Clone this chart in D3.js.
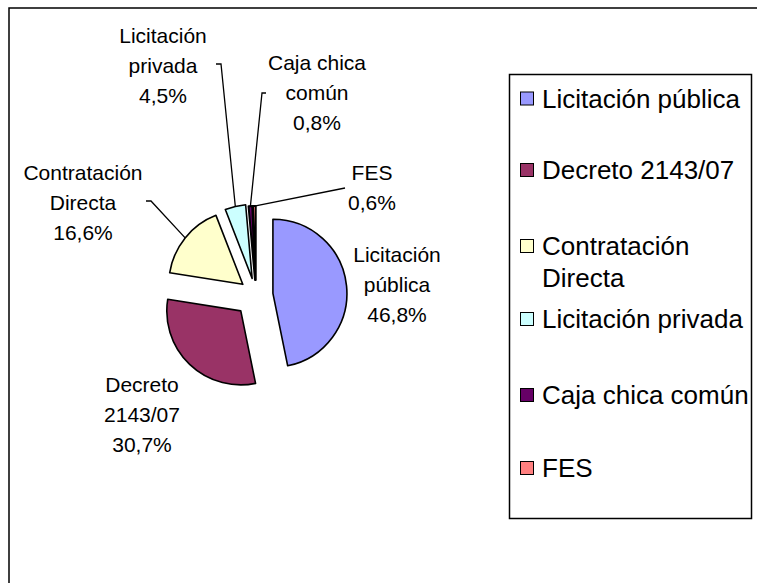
<!DOCTYPE html>
<html>
<head>
<meta charset="utf-8">
<script src="https://cdn.jsdelivr.net/npm/d3@7"></script>
<style>
  html, body { margin: 0; padding: 0; background: #fff; }
  svg { display: block; }
  text { font-family: "Liberation Sans", Arial, sans-serif; fill: #000; }
</style>
</head>
<body>
<svg id="chart" width="757" height="583"></svg>
<script>
// ---- data ----
const categories = ["Licitación pública", "Decreto 2143/07", "Contratación Directa", "Licitación privada", "Caja chica común", "FES"];
const values = [46.8, 30.7, 16.6, 4.5, 0.8, 0.6];
const valueLabels = ["46,8%", "30,7%", "16,6%", "4,5%", "0,8%", "0,6%"];
const labelLines = [["Licitación", "pública"], ["Decreto", "2143/07"], ["Contratación", "Directa"], ["Licitación", "privada"], ["Caja chica", "común"], ["FES"]];
const legendLines = [["Licitación pública"], ["Decreto 2143/07"], ["Contratación", "Directa"], ["Licitación privada"], ["Caja chica común"], ["FES"]];

// ---- styles / layout ----
const colors = ["#9999FF", "#993366", "#FFFFCC", "#CCFFFF", "#660066", "#FF8080"];
const explode = [17, 22, 17, 17, 15, 15];
const cx = 256, cy = 295, R = 74;
const labelPos = [
  {x: 397, y: 262}, {x: 142, y: 392}, {x: 83, y: 180},
  {x: 163, y: 43}, {x: 317, y: 70}, {x: 372, y: 180}
];
const lineStep = 30;
// leader start points (label side); null = no leader
const leaders = [null, null, [[146, 201], [151, 201]], [[216, 64], [221, 64]], [[266, 93], [262, 93]], [[345, 188]]];
const legendBase = [107.5, 179, 255, 328, 404, 477];

const svg = d3.select("#chart");

// outer chart border
svg.append("rect").attr("x", 9).attr("y", 8).attr("width", 900).attr("height", 900)
  .attr("fill", "none").attr("stroke", "#000").attr("stroke-width", 1.5);

const pie = d3.pie().sort(null).value(d => d)(values);
const arc = d3.arc().innerRadius(0).outerRadius(R);

const slices = svg.append("g").attr("transform", `translate(${cx},${cy})`);
pie.forEach((p, i) => {
  const mid = (p.startAngle + p.endAngle) / 2;
  const dx = explode[i] * Math.sin(mid), dy = -explode[i] * Math.cos(mid);
  slices.append("path")
    .attr("d", arc(p))
    .attr("transform", `translate(${dx},${dy})`)
    .attr("fill", colors[i])
    .attr("stroke", "#000")
    .attr("stroke-width", values[i] < 1 ? 2 : 1.6)
    .attr("stroke-linejoin", "round");
  if (leaders[i]) {
    const ex = cx + dx + R * Math.sin(mid), ey = cy + dy - R * Math.cos(mid);
    const pts = leaders[i].concat([[ex, ey]]);
    svg.append("path").attr("d", d3.line()(pts))
      .attr("fill", "none").attr("stroke", "#000").attr("stroke-width", 1.3);
  }
});

// pie labels
pie.forEach((p, i) => {
  const lines = labelLines[i].concat([valueLabels[i]]);
  const t = svg.append("text").attr("text-anchor", "middle").style("font-size", "21px");
  lines.forEach((l, k) => {
    t.append("tspan").attr("x", labelPos[i].x).attr("y", labelPos[i].y + k * lineStep).text(l);
  });
});

// legend
svg.append("rect").attr("x", 509.5).attr("y", 74.5).attr("width", 242).attr("height", 444)
  .attr("fill", "#fff").attr("stroke", "#000").attr("stroke-width", 1.5);
categories.forEach((c, i) => {
  const b = legendBase[i];
  svg.append("rect").attr("x", 520.5).attr("y", b - 15.5).attr("width", 13).attr("height", 13)
    .attr("fill", colors[i]).attr("stroke", "#000").attr("stroke-width", 1);
  const t = svg.append("text").style("font-size", "26px");
  legendLines[i].forEach((l, k) => {
    t.append("tspan").attr("x", 542).attr("y", b + k * 32).text(l);
  });
});
</script>
</body>
</html>
